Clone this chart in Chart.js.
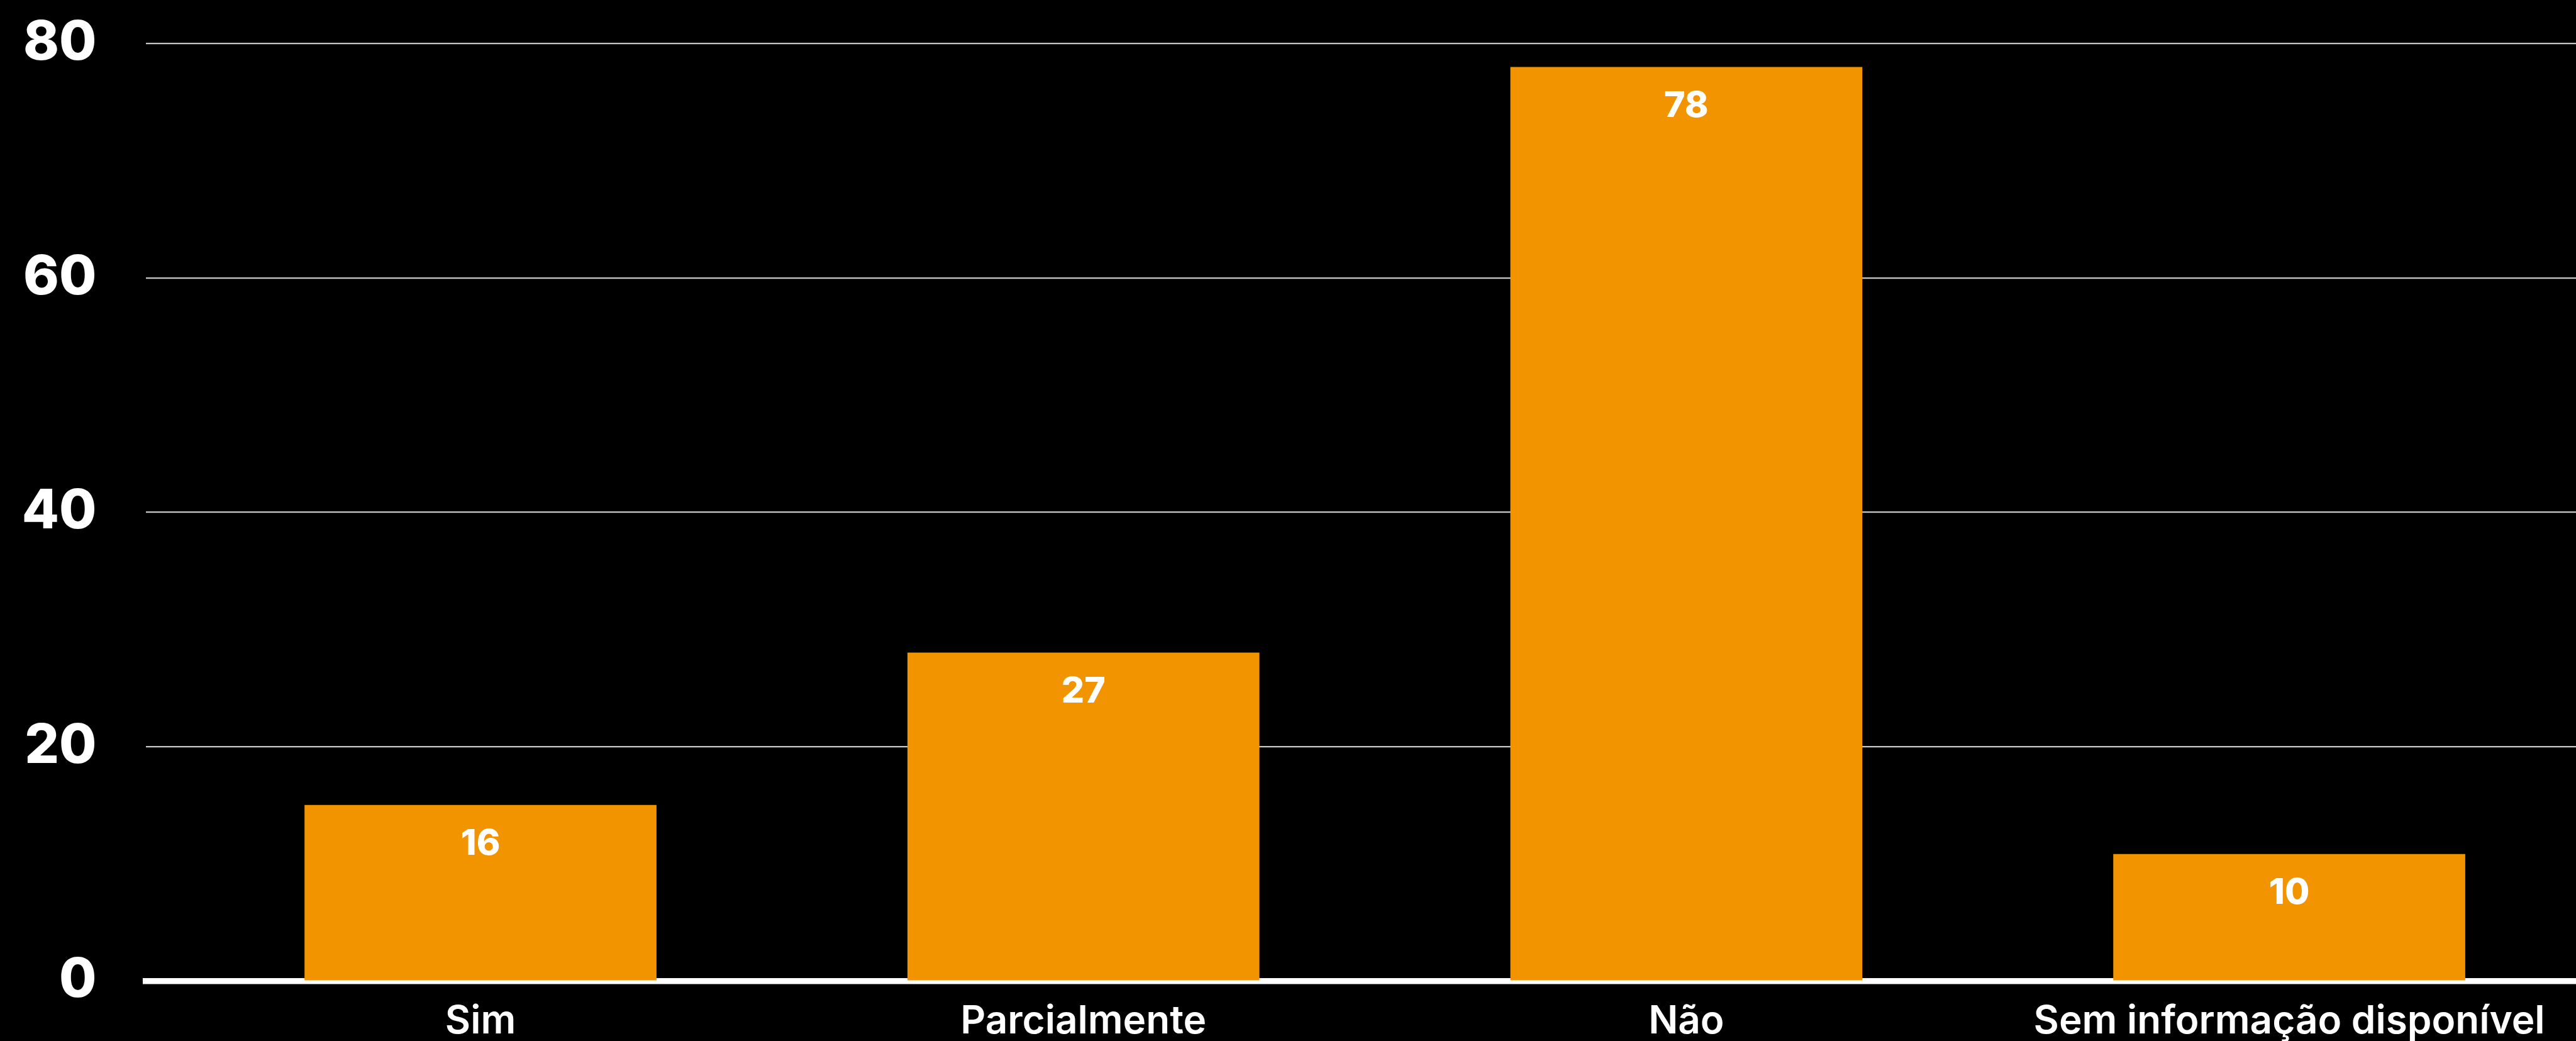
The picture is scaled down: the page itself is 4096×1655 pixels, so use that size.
<!DOCTYPE html>
<html>
<head>
<meta charset="utf-8">
<script src="https://cdn.jsdelivr.net/npm/chart.js@4"></script>
<style>
  html, body { margin: 0; padding: 0; background: #000; }
  #wrap { width: 4096px; height: 1655px; }
</style>
</head>
<body>
<div id="wrap"><canvas id="grafico"></canvas></div>
<script>
// dados
const categorias = ['Sim', 'Parcialmente', 'Não', 'Sem informação disponível']
const valores = [15, 28, 78, 10.8]
const rotulos = ['16', '27', '78', '10']
const ticksY = [0, 20, 40, 60, 80]

const laranja = 'rgb(242, 148, 0)'

// escreve o número dentro da barra, perto do topo
const rotulosPlugin = {
    id: 'rotulos',
    afterDatasetsDraw(chart){
        const ctx = chart.ctx
        const meta = chart.getDatasetMeta(0)
        ctx.save()
        ctx.fillStyle = '#fff'
        ctx.font = '800 57px Inter'
        ctx.textAlign = 'center'
        ctx.textBaseline = 'alphabetic'
        meta.data.forEach((bar, i) => {
            ctx.fillText(rotulos[i], bar.x, bar.y + 79)
        })
        ctx.restore()
    }
}

const config = {
    type: 'bar',
    data: {
        datasets: [{
            data: valores.map((v, i) => ({x: i, y: v})),
            backgroundColor: laranja,
            barThickness: 559,
            borderWidth: 0
        }]
    },
    options: {
        responsive: true,
        maintainAspectRatio: false,
        animation: false,
        devicePixelRatio: 1,
        layout: { padding: { top: 69.6, right: 0, bottom: 0, left: 0 } },
        plugins: {
            legend: { display: false },
            tooltip: { enabled: false }
        },
        scales: {
            x: {
                type: 'linear',
                min: -0.5555,
                max: 3.4756,
                offset: false,
                z: 1,
                afterFit: (scale) => { scale.height = 95.7 },
                grid: { display: false, drawTicks: false },
                border: { display: true, color: '#fff', width: 9.4 },
                ticks: {
                    stepSize: 1,
                    includeBounds: false,
                    autoSkip: false,
                    maxRotation: 0,
                    padding: 28,
                    color: '#fff',
                    font: { family: 'Inter', size: 62, weight: 600 },
                    callback: (v) => categorias[v] ?? ''
                }
            },
            y: {
                min: ticksY[0],
                max: ticksY[ticksY.length - 1],
                afterFit: (scale) => {
                    scale.width = 231.5
                    scale.paddingTop = 0
                    scale.paddingBottom = 0
                },
                grid: {
                    drawTicks: false,
                    lineWidth: 2.3,
                    color: (c) => c.tick && c.tick.value === 0 ? 'rgba(0,0,0,0)' : '#c8c8c8'
                },
                border: { display: false },
                ticks: {
                    stepSize: 20,
                    padding: 78,
                    color: '#fff',
                    font: { family: 'Inter', size: 86, weight: 800 }
                }
            }
        }
    },
    plugins: [rotulosPlugin]
}

const grafico = new Chart(document.getElementById('grafico'), config)
</script>
</body>
</html>
